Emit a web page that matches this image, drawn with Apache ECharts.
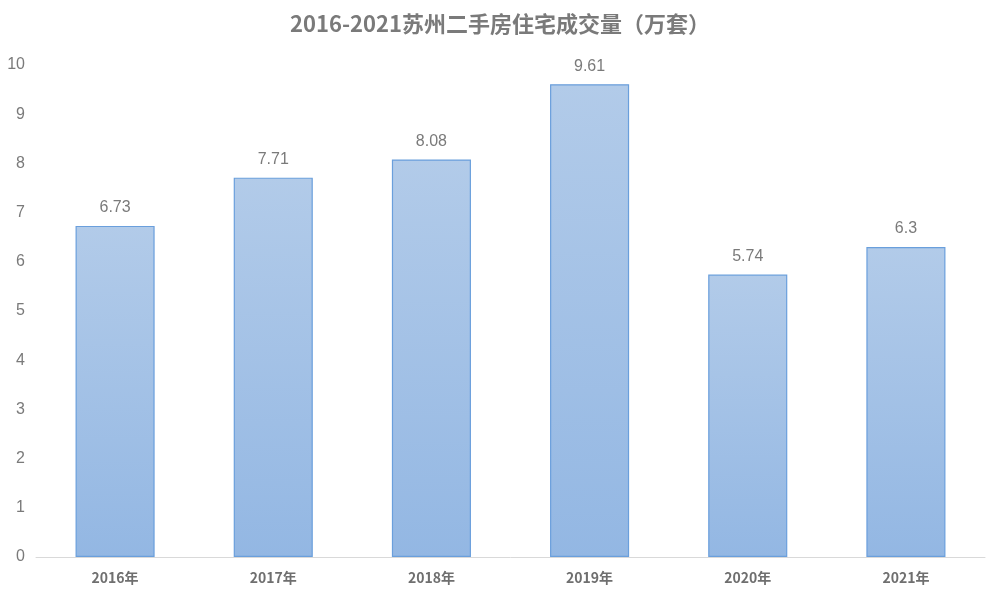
<!DOCTYPE html>
<html><head><meta charset="utf-8">
<script src="https://cdn.jsdelivr.net/npm/echarts@6/dist/echarts.min.js"></script>
<style>html,body{margin:0;padding:0;background:#fff}#c{width:1000px;height:600px}</style>
</head><body><div id="c"></div>
<script>
const categories = ['2016年','2017年','2018年','2019年','2020年','2021年'];
const values = [6.73, 7.71, 8.08, 9.61, 5.74, 6.3];
const titleText = '2016-2021苏州二手房住宅成交量（万套）';

const chart = echarts.init(document.getElementById('c'));
chart.setOption({
  animation: false,
  title: {
    text: titleText, left: 'center', top: 8,
    textStyle: {fontFamily: 'Noto Sans CJK SC', fontSize: 22, fontWeight: 'bold', color: '#7a7a7a'}
  },
  grid: {left: 36, right: 15, top: 65, bottom: 43},
  xAxis: {
    type: 'category', data: categories,
    axisLine: {lineStyle: {color: '#d9d9d9', width: 1}},
    axisTick: {show: false},
    axisLabel: {margin: 14, fontFamily: 'Noto Sans CJK SC', fontSize: 14, fontWeight: 'bold', color: '#6f6f6f'}
  },
  yAxis: {
    type: 'value', min: 0, max: 10, interval: 1,
    splitLine: {show: false},
    axisLine: {show: false}, axisTick: {show: false},
    axisLabel: {margin: 11, fontFamily: 'Liberation Sans', fontSize: 16, color: '#7a7a7a'}
  },
  series: [{
    type: 'bar', data: values, barWidth: '50%',
    itemStyle: {
      color: new echarts.graphic.LinearGradient(0,0,0,1,[{offset:0,color:'#b2cbe9'},{offset:1,color:'#93b7e3'}]),
      borderColor: '#6a9fdc', borderWidth: 1.2
    },
    label: {show: true, position: 'top', distance: 10, fontFamily: 'Liberation Sans', fontSize: 16, color: '#7a7a7a'}
  }]
});
</script></body></html>
